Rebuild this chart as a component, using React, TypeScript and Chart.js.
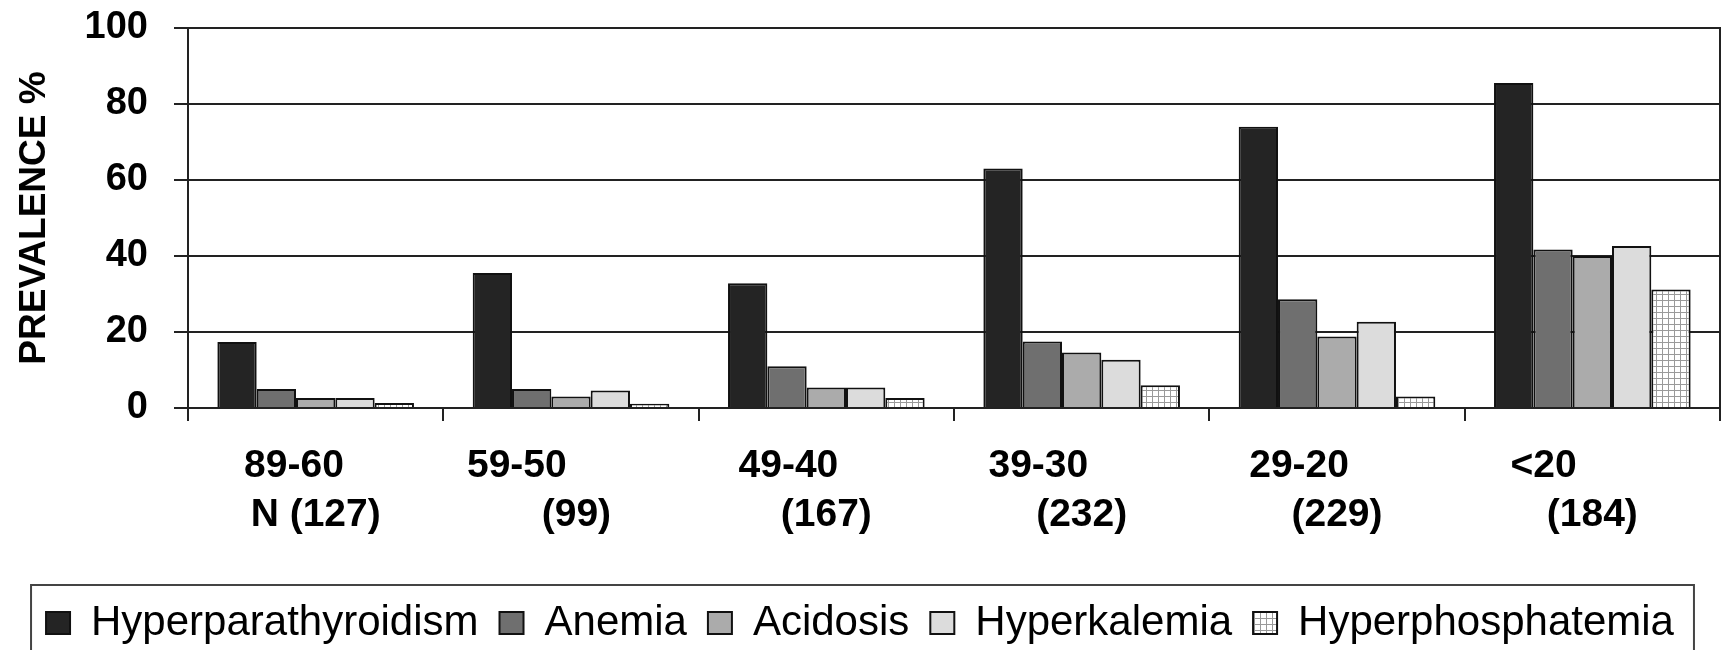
import React, { useEffect, useRef } from 'react';
import { Chart, registerables } from 'chart.js';

Chart.register(...registerables);

// ---- data ----
const ranges = ['89-60', '59-50', '49-40', '39-30', '29-20', '<20'];
const counts = ['N (127)', '(99)', '(167)', '(232)', '(229)', '(184)'];
const seriesNames = ['Hyperparathyroidism', 'Anemia', 'Acidosis', 'Hyperkalemia', 'Hyperphosphatemia'];
const hyperparathyroidism = [17.4, 35.5, 32.8, 63, 74, 85.5];
const anemia = [5, 5, 11, 17.5, 28.6, 41.7];
const acidosis = [2.6, 3, 5.4, 14.6, 18.8, 40];
const hyperkalemia = [2.6, 4.6, 5.4, 12.7, 22.7, 42.6];
const hyperphosphatemia = [1.3, 1.1, 2.6, 6, 3, 31.2];
const yTicks = [0, 20, 40, 60, 80, 100];

// ---- styling (label offsets in spaces) ----
const firstLineTrail = [4, 10, 7, 8, 7, 9];
const secondLineLead = [0, 1, 0, 0, 0, 0];

const FONT = "'Liberation Sans', Arial, sans-serif";
const W = 1730;
const H = 654;
const LEGEND_PAD = 21;

function makeGridPattern(): CanvasPattern | string {
  const c = document.createElement('canvas');
  c.width = 6;
  c.height = 6;
  const ctx = c.getContext('2d');
  if (!ctx) return '#ffffff';
  ctx.fillStyle = '#ffffff';
  ctx.fillRect(0, 0, 6, 6);
  ctx.fillStyle = '#9a9a9a';
  ctx.fillRect(0, 0, 6, 1);
  ctx.fillRect(0, 0, 1, 6);
  return ctx.createPattern(c, 'repeat') || '#ffffff';
}

const legendFrame = {
  id: 'legendFrame',
  afterDraw(chart: any) {
    const lg = chart.legend;
    if (!lg || !lg.legendHitBoxes || !lg.legendHitBoxes.length) return;
    const hb = lg.legendHitBoxes;
    const first = hb[0];
    const last = hb[hb.length - 1];
    const left = first.left - 15;
    const right = last.left + last.width + 20;
    const top = first.top - 17;
    const ctx = chart.ctx;
    ctx.save();
    ctx.strokeStyle = '#444';
    ctx.lineWidth = 2;
    ctx.strokeRect(left, top, right - left, chart.height - top + 10);
    ctx.restore();
  },
};

export default function App() {
  const ref = useRef<HTMLCanvasElement | null>(null);

  useEffect(() => {
    if (!ref.current) return;
    const pattern = makeGridPattern();
    const values = [hyperparathyroidism, anemia, acidosis, hyperkalemia, hyperphosphatemia];
    const fills: any[] = ['#242424', '#6f6f6f', '#ababab', '#dcdcdc', pattern];
    const chart = new Chart(ref.current, {
      type: 'bar',
      data: {
        labels: ranges,
        datasets: values.map((v, i) => ({
          label: seriesNames[i],
          data: v,
          backgroundColor: fills[i],
          borderColor: '#111111',
          borderWidth: 2,
          categoryPercentage: 0.77,
          barPercentage: 1,
        })),
      },
      options: {
        responsive: false,
        animation: false,
        layout: { padding: { top: 28, right: 10, left: 0, bottom: 0 } },
        plugins: {
          tooltip: { enabled: false },
          legend: {
            position: 'bottom',
            labels: {
              color: '#000',
              font: { family: FONT, size: 42, weight: 'normal' },
              boxWidth: 24,
              boxHeight: 22,
              padding: LEGEND_PAD,
            },
          },
        },
        scales: {
          x: {
            grid: {
              display: true,
              drawOnChartArea: false,
              drawTicks: true,
              tickLength: 13,
              color: '#222',
              lineWidth: 2,
              offset: true,
            },
            border: { display: true, color: '#222', width: 2 },
            ticks: {
              color: '#000',
              padding: 21,
              maxRotation: 0,
              autoSkip: false,
              font: { family: FONT, size: 39, weight: 'bold', lineHeight: 1.26 },
              callback: (_v: any, i: number) => [
                ranges[i] + '\u00A0'.repeat(firstLineTrail[i]),
                '\u00A0'.repeat(secondLineLead[i]) + counts[i],
              ],
            },
            afterFit: (s: any) => {
              s.height = H - (42 + LEGEND_PAD + 10) - 408;
              s.paddingLeft = 0;
              s.paddingRight = 0;
            },
          },
          y: {
            min: 0,
            max: 100,
            afterBuildTicks: (s: any) => {
              s.ticks = yTicks.map((v) => ({ value: v }));
            },
            grid: {
              color: '#222',
              lineWidth: 2,
              tickLength: 14,
              drawTicks: true,
            },
            border: { display: true, color: '#222', width: 2 },
            ticks: {
              color: '#000',
              padding: 26,
              font: { family: FONT, size: 38, weight: 'bold' },
            },
            title: {
              display: true,
              text: 'PREVALENCE %',
              color: '#000',
              padding: { top: 13, bottom: 0 },
              font: { family: FONT, size: 37, weight: 'bold' },
            },
            afterFit: (s: any) => {
              s.width = 188;
              s.paddingTop = 0;
              s.paddingBottom = 0;
            },
          },
          y2: {
            position: 'right',
            display: true,
            min: 0,
            max: 100,
            grid: { drawOnChartArea: false, drawTicks: false },
            ticks: { display: false },
            border: { display: true, color: '#222', width: 2 },
            afterFit: (s: any) => {
              s.width = 0;
              s.paddingTop = 0;
              s.paddingBottom = 0;
            },
          },
        },
      },
      plugins: [legendFrame],
    } as any);
    return () => chart.destroy();
  }, []);

  return (
    <div style={{ position: 'fixed', left: 0, top: 0, width: W, height: 650, overflow: 'hidden', background: '#fff' }}>
      <canvas ref={ref} width={W} height={H} style={{ display: 'block', width: W, height: H }} />
    </div>
  );
}
